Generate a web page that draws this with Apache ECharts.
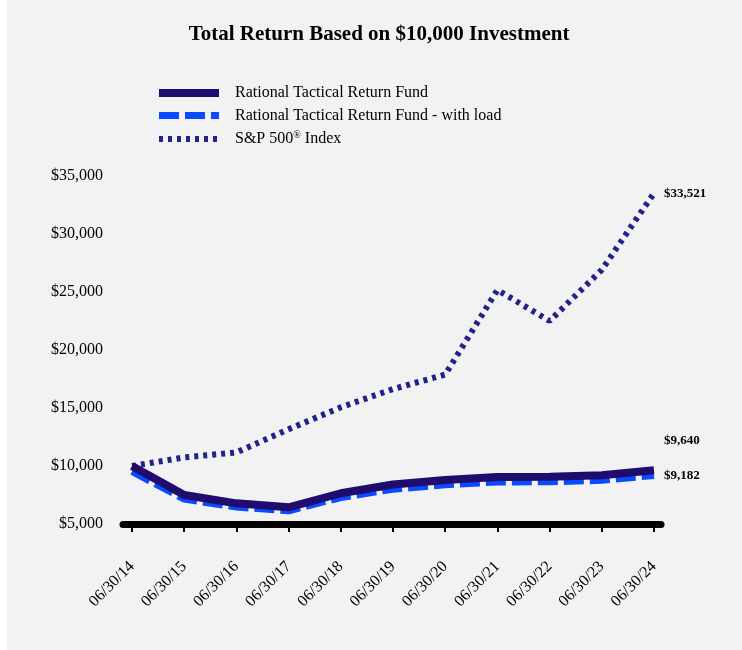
<!DOCTYPE html>
<html>
<head>
<meta charset="utf-8">
<script src="https://cdn.jsdelivr.net/npm/echarts@6/dist/echarts.min.js"></script>
<style>
    html, body { margin: 0; padding: 0; background: #fff; }
    #main {
        width: 742px;
        height: 650px;
        background: linear-gradient(to right, #fff 7px, #f2f2f2 7px);
    }
</style>
</head>
<body>
<div id="main"></div>
<script>
// 数据
var categories = ['06/30/14', '06/30/15', '06/30/16', '06/30/17', '06/30/18', '06/30/19',
    '06/30/20', '06/30/21', '06/30/22', '06/30/23', '06/30/24'];
var fundValues = [10000, 7500, 6780, 6440, 7650, 8400, 8800, 9050, 9070, 9200, 9640];
var loadValues = [9525, 7145, 6460, 6135, 7285, 8000, 8380, 8620, 8640, 8765, 9182];
var spValues = [10000, 10742, 11171, 13170, 15064, 16633, 17881, 25176, 22503, 26912, 33521];
var seriesNames = ['Rational Tactical Return Fund', 'Rational Tactical Return Fund - with load', 'S&P 500® Index'];

(function () {
    var serif = '"Liberation Serif", "Times New Roman", serif';

    function fmtMoney(v) {
        return '$' + Math.round(v).toLocaleString('en-US');
    }

    // 末端数值标签
    function endLabel(offset) {
        return {
            show: true,
            distance: 10,
            offset: offset,
            formatter: function (p) { return fmtMoney(p.value); },
            fontFamily: serif,
            fontWeight: 'bold',
            fontSize: 13,
            color: '#000'
        };
    }

    var option = {
        animation: false,
        title: {
            text: 'Total Return Based on $10,000 Investment',
            left: 374,
            textAlign: 'center',
            top: 19,
            textStyle: { fontFamily: serif, fontWeight: 'bold', fontSize: 21, color: '#000' }
        },
        legend: {
            orient: 'vertical',
            left: 155,
            top: 85,
            padding: 0,
            itemWidth: 60,
            itemHeight: 10,
            itemGap: 6.5,
            data: seriesNames,
            lineStyle: { width: 'inherit' },
            itemStyle: { color: 'transparent', borderColor: 'transparent', borderWidth: 0 },
            formatter: function (name) {
                // ® 上标
                return name.replace('®', '{sup|®}');
            },
            textStyle: {
                fontFamily: serif,
                fontSize: 16,
                color: '#000',
                padding: [0, 0, 0, 11],
                rich: {
                    sup: { fontFamily: serif, fontSize: 10, color: '#000', padding: [0, 0, 8, 0] }
                }
            }
        },
        grid: [
            { left: 132, right: 88, top: 176, bottom: 126 },
            { left: 123, right: 81, top: 176, bottom: 126 }  // 只用来画加长的粗轴线
        ],
        xAxis: [
            {
                type: 'category',
                gridIndex: 0,
                data: categories,
                boundaryGap: false,
                axisLine: { show: false },
                axisTick: { show: true, alignWithLabel: true, length: 8, lineStyle: { color: '#000', width: 2 } },
                axisLabel: {
                    rotate: 45,
                    margin: 40,
                    fontFamily: serif,
                    fontSize: 16,
                    color: '#000',
                    interval: 0
                },
                splitLine: { show: false }
            },
            {
                type: 'value',
                gridIndex: 1,
                min: 0,
                max: 1,
                axisLine: { show: true, onZero: false, lineStyle: { color: '#000', width: 7 } },
                axisTick: { show: false },
                axisLabel: { show: false },
                splitLine: { show: false }
            }
        ],
        yAxis: [
            {
                type: 'value',
                gridIndex: 0,
                min: 5000,
                max: 35000,
                interval: 5000,
                axisLine: { show: false },
                axisTick: { show: false },
                splitLine: { show: false },
                axisLabel: {
                    margin: 29,
                    padding: [4, 0, 0, 0],
                    fontFamily: serif,
                    fontSize: 16,
                    color: '#000',
                    formatter: fmtMoney
                }
            },
            {
                type: 'value',
                gridIndex: 1,
                min: 0,
                max: 1,
                show: false
            }
        ],
        series: [
            {
                name: seriesNames[0],
                type: 'line',
                data: fundValues,
                symbol: 'none',
                z: 4,
                lineStyle: { color: '#200c6e', width: 8, cap: 'butt' },
                itemStyle: { color: '#200c6e' },
                endLabel: endLabel([0, -30])
            },
            {
                name: seriesNames[1],
                type: 'line',
                data: loadValues,
                symbol: 'none',
                z: 3,
                lineStyle: { color: '#0a4bff', width: 7, type: [20, 6], cap: 'butt' },
                itemStyle: { color: '#0a4bff' },
                endLabel: endLabel([0, 0])
            },
            {
                name: seriesNames[2],
                type: 'line',
                data: spValues,
                symbol: 'none',
                z: 2,
                lineStyle: { color: '#22228e', width: 6, type: [4, 5], cap: 'butt' },
                itemStyle: { color: '#22228e' },
                endLabel: endLabel([0, 0])
            }
        ]
    };

    var myechart = echarts.init(document.getElementById('main'));
    myechart.setOption(option);
})();
</script>
</body>
</html>
